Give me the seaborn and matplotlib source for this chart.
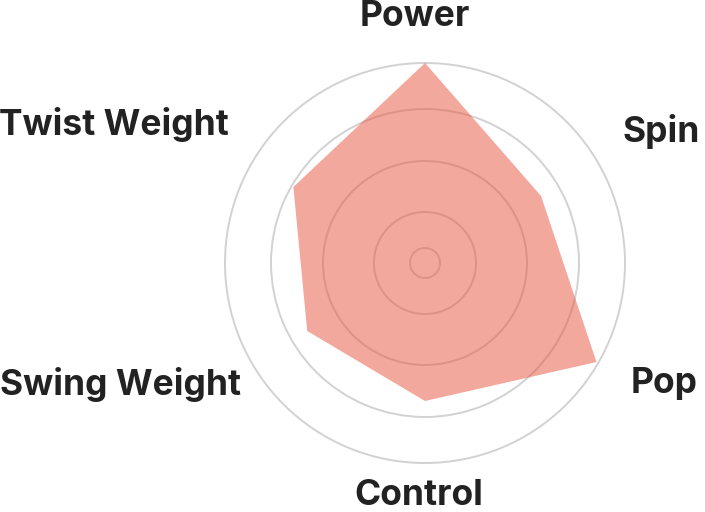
import numpy as np
import seaborn as sns
import matplotlib.pyplot as plt

sns.set_theme(style="white")
plt.rcParams['font.family'] = ['Inter', 'Roboto', 'DejaVu Sans']

# paddle ratings, clockwise from top
categories = ["Power", "Spin", "Pop", "Control", "Swing Weight", "Twist Weight"]
values = [100, 67, 99, 69, 68, 76]
rings = [7.5, 25.5, 51, 77, 100]

# label offsets from the rim, in pixels
label_offsets = [(-10, 37), (24, 21), (32, -30), (-6, -42), (-11, -32), (-23, 28)]
label_align = ["center", "left", "left", "center", "right", "right"]

W, H = 705, 512
cx, cy, R = 425, 263, 200
rmax = 102

fig = plt.figure(figsize=(W / 100, H / 100), dpi=100)
rpx = R * rmax / 100
ax = fig.add_axes([(cx - rpx) / W, (H - cy - rpx) / H, 2 * rpx / W, 2 * rpx / H],
                  projection="polar")
ax.set_theta_offset(np.pi / 2)
ax.set_theta_direction(-1)

angles = np.linspace(0, 2 * np.pi, len(categories), endpoint=False)
ax.fill(angles, values, color="#E6533A", alpha=0.5, linewidth=0, zorder=2)

ax.set_ylim(0, rmax)
ax.set_yticks(rings)
ax.set_yticklabels([])
ax.set_xticks([])
ax.yaxis.grid(True, color="#d2d2d2", linewidth=1.4)
ax.xaxis.grid(False)
ax.spines["polar"].set_visible(False)
ax.set_axisbelow(True)
ax.set_facecolor("none")

for ang, name, off, ha in zip(angles, categories, label_offsets, label_align):
    ax.annotate(name, xy=(ang, 100), xytext=off, textcoords="offset pixels",
                ha=ha, va="baseline", fontsize=25.5, fontweight="bold",
                color="#222222", annotation_clip=False)

fig.savefig("out.png", dpi=100)
